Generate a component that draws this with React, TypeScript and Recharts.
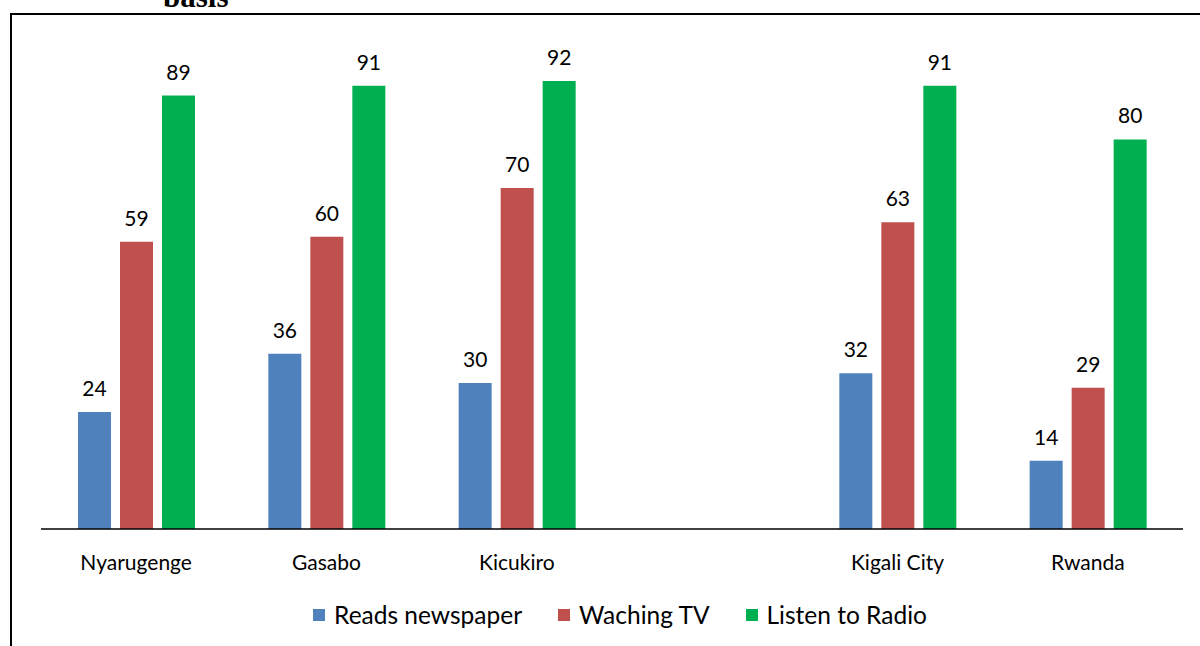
import { BarChart, Bar, XAxis, YAxis, LabelList, Legend } from "recharts";

const districts = ["Nyarugenge", "Gasabo", "Kicukiro", "", "Kigali City", "Rwanda"];
const newspaper = [24, 36, 30, null, 32, 14];
const tv = [59, 60, 70, null, 63, 29];
const radio = [89, 91, 92, null, 91, 80];

const SERIES = [
  { key: "newspaper", name: "Reads newspaper", color: "#4f81bd" },
  { key: "tv", name: "Waching TV", color: "#c0504d" },
  { key: "radio", name: "Listen to Radio", color: "#00b050" },
];

const FONT = "Lato, 'Open Sans', sans-serif";

const data = districts.map((d, i) => ({
  name: d,
  newspaper: newspaper[i],
  tv: tv[i],
  radio: radio[i],
}));

function LegendRow() {
  return (
    <div style={{ display: "flex", justifyContent: "center", gap: 36, fontFamily: FONT, fontSize: 24.5, color: "#000" }}>
      {SERIES.map((s) => (
        <div key={s.key} style={{ display: "flex", alignItems: "center", gap: 9 }}>
          <span style={{ width: 12, height: 12, background: s.color, display: "inline-block" }} />
          <span>{s.name}</span>
        </div>
      ))}
    </div>
  );
}

export default function App() {
  return (
    <div style={{ position: "absolute", left: 0, top: 0, width: 1200, height: 646, background: "#fff", overflow: "hidden" }}>
      <div
        style={{
          position: "absolute", left: 163, top: -19, fontFamily: "'Liberation Serif', 'Times New Roman', serif",
          fontWeight: "bold", fontSize: 31, lineHeight: "31px",
        }}
      >
        basis
      </div>
      <div style={{ position: "absolute", left: 10, top: 13, width: 1200, height: 640, borderLeft: "2px solid #000", borderTop: "2px solid #000" }} />
      <div style={{ position: "absolute", left: 0, top: 0 }}>
        <BarChart
          width={1200}
          height={646}
          data={data}
          margin={{ top: 42, right: 17, left: 41, bottom: 87 }}
          barSize={33}
          barGap={9}
        >
          <XAxis
            dataKey="name"
            tickLine={false}
            axisLine={{ stroke: "#000", strokeWidth: 1.5 }}
            tick={{ fill: "#000", fontSize: 21, fontFamily: FONT }}
            tickMargin={20}
            interval={0}
          />
          <YAxis hide domain={[0, 100]} />
          <Legend
            layout="horizontal"
            verticalAlign="middle"
            wrapperStyle={{ top: 600, left: 20, width: 1200 }}
            content={() => <LegendRow />}
          />
          {SERIES.map((s) => (
            <Bar key={s.key} dataKey={s.key} name={s.name} fill={s.color} isAnimationActive={false}>
              <LabelList dataKey={s.key} position="top" offset={16} fill="#000" fontSize={21} fontFamily={FONT} />
            </Bar>
          ))}
        </BarChart>
      </div>
    </div>
  );
}
